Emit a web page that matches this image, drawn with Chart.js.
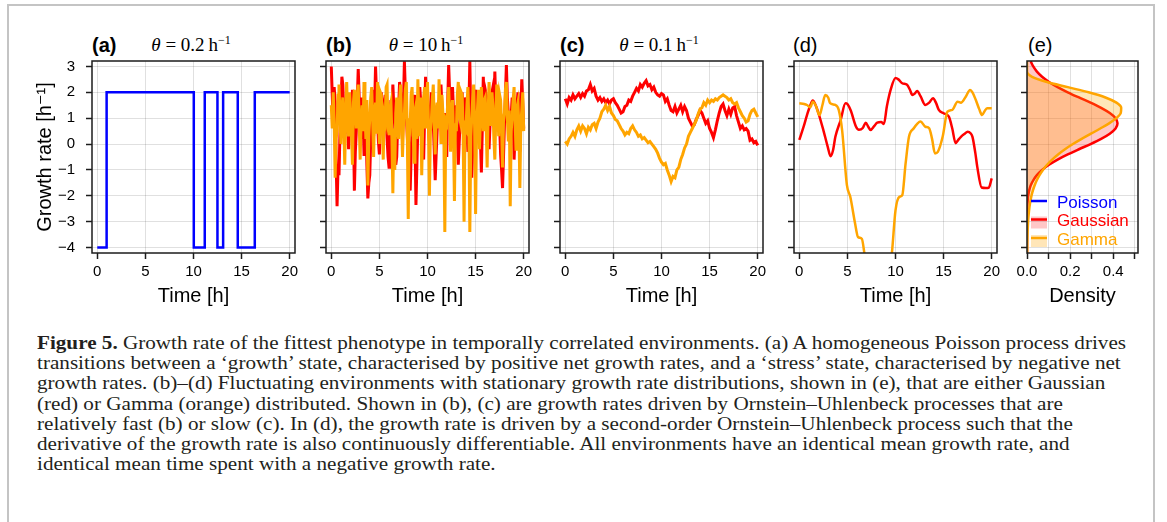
<!DOCTYPE html>
<html>
<head>
<meta charset="utf-8">
<script src="https://cdn.jsdelivr.net/npm/chart.js@4.4.1/dist/chart.umd.min.js"></script>
<style>
  html, body { margin: 0; padding: 0; background: #fff; }
  body { width: 1167px; height: 522px; overflow: hidden; position: relative; font-family: 'Liberation Sans', Arial, sans-serif; }
  #frame { position: absolute; left: 7px; top: 4px; width: 1148px; height: 600px; border: 2px solid #c4c4c4; box-sizing: border-box; }
  .panel { position: absolute; top: 56px; height: 260px; }
  .tag { position: absolute; top: 33px; font-size: 20px; line-height: 24px; color: #000; }
  .tag.bold { font-weight: bold; }
  .theta { position: absolute; top: 33px; font-family: 'Liberation Serif', 'DejaVu Serif', serif; font-size: 19px; line-height: 24px; transform: translateX(-50%); white-space: nowrap; }
  .theta sup { font-size: 12px; vertical-align: 7px; line-height: 0; }
  #caption { position: absolute; left: 37px; top: 333px; font-family: 'Liberation Serif', serif; font-size: 19px; line-height: 20.2px; color: #231f20; white-space: nowrap; transform-origin: 0 0; }
  #caption span { display: inline-block; }
</style>
</head>
<body>
<div id="frame"></div>

<div class="tag bold" style="left:92px">(a)</div>
<div class="theta" style="left:191px"><i>θ</i>&nbsp;=&nbsp;0.2&thinsp;h<sup>−1</sup></div>
<div class="tag bold" style="left:326px">(b)</div>
<div class="theta" style="left:426px"><i>θ</i>&nbsp;=&nbsp;10&thinsp;h<sup>−1</sup></div>
<div class="tag bold" style="left:560px">(c)</div>
<div class="theta" style="left:659px"><i>θ</i>&nbsp;=&nbsp;0.1&thinsp;h<sup>−1</sup></div>
<div class="tag" style="left:793px">(d)</div>
<div class="tag" style="left:1028px">(e)</div>

<div class="panel" style="left:20px;width:285px"><canvas id="panelA"></canvas></div>
<div class="panel" style="left:306px;width:233px"><canvas id="panelB"></canvas></div>
<div class="panel" style="left:540px;width:233px"><canvas id="panelC"></canvas></div>
<div class="panel" style="left:774px;width:233px"><canvas id="panelD"></canvas></div>
<div class="panel" style="left:1007px;width:141px"><canvas id="panelE"></canvas></div>

<div id="caption">
  <div><span><b>Figure 5.</b> Growth rate of the fittest phenotype in temporally correlated environments. (a) A homogeneous Poisson process drives</span></div>
  <div><span>transitions between a ‘growth’ state, characterised by positive net growth rates, and a ‘stress’ state, characterised by negative net</span></div>
  <div><span>growth rates. (b)–(d) Fluctuating environments with stationary growth rate distributions, shown in (e), that are either Gaussian</span></div>
  <div><span>(red) or Gamma (orange) distributed. Shown in (b), (c) are growth rates driven by Ornstein–Uhlenbeck processes that are</span></div>
  <div><span>relatively fast (b) or slow (c). In (d), the growth rate is driven by a second-order Ornstein–Uhlenbeck process such that the</span></div>
  <div><span>derivative of the growth rate is also continuously differentiable. All environments have an identical mean growth rate, and</span></div>
  <div><span>identical mean time spent with a negative growth rate.</span></div>
</div>

<script>
// axis ranges and ticks
const rateMin = -4.21
const rateMax = 3.21
const rateTicks = [-4, -3, -2, -1, 0, 1, 2, 3]
const timeMin = -0.55
const timeMax = 20.55
const timeTicks = [0, 5, 10, 15, 20]
const densityTicks = [0, 0.1, 0.2, 0.3, 0.4, 0.5]

// (a) Poisson switching between growth and stress
const aTime = [0, 0.97, 10.03, 11.17, 12.49, 13.08, 14.6, 16.37, 20]
const aRate = [-4, 2, -4, 2, -4, 2, -4, 2, 2]

// (b) fast OU, theta = 10 / h, sampled every 0.1 h
const bTime = [
  0, 0.1, 0.2, 0.3, 0.4, 0.5, 0.6, 0.7, 0.8, 0.9, 1, 1.1, 1.2, 1.3, 1.4, 1.5, 1.6, 1.7, 1.8, 1.9,
  2, 2.1, 2.2, 2.3, 2.4, 2.5, 2.6, 2.7, 2.8, 2.9, 3, 3.1, 3.2, 3.3, 3.4, 3.5, 3.6, 3.7, 3.8, 3.9,
  4, 4.1, 4.2, 4.3, 4.4, 4.5, 4.6, 4.7, 4.8, 4.9, 5, 5.1, 5.2, 5.3, 5.4, 5.5, 5.6, 5.7, 5.8, 5.9,
  6, 6.1, 6.2, 6.3, 6.4, 6.5, 6.6, 6.7, 6.8, 6.9, 7, 7.1, 7.2, 7.3, 7.4, 7.5, 7.6, 7.7, 7.8, 7.9,
  8, 8.1, 8.2, 8.3, 8.4, 8.5, 8.6, 8.7, 8.8, 8.9, 9, 9.1, 9.2, 9.3, 9.4, 9.5, 9.6, 9.7, 9.8, 9.9,
  10, 10.1, 10.2, 10.3, 10.4, 10.5, 10.6, 10.7, 10.8, 10.9, 11, 11.1, 11.2, 11.3, 11.4, 11.5, 11.6, 11.7, 11.8, 11.9,
  12, 12.1, 12.2, 12.3, 12.4, 12.5, 12.6, 12.7, 12.8, 12.9, 13, 13.1, 13.2, 13.3, 13.4, 13.5, 13.6, 13.7, 13.8, 13.9,
  14, 14.1, 14.2, 14.3, 14.4, 14.5, 14.6, 14.7, 14.8, 14.9, 15, 15.1, 15.2, 15.3, 15.4, 15.5, 15.6, 15.7, 15.8, 15.9,
  16, 16.1, 16.2, 16.3, 16.4, 16.5, 16.6, 16.7, 16.8, 16.9, 17, 17.1, 17.2, 17.3, 17.4, 17.5, 17.6, 17.7, 17.8, 17.9,
  18, 18.1, 18.2, 18.3, 18.4, 18.5, 18.6, 18.7, 18.8, 18.9, 19, 19.1, 19.2, 19.3, 19.4, 19.5, 19.6, 19.7, 19.8, 19.9,
  20
]
const bGauss = [
  3.0, 1.9, 0.8, 2.2, 1.6, -0.6, -2.4, -0.9, -1.2, 0.4, 1.4, 2.6, 2.3, 1.2, 0.4, 1.5, 1.9, 0.7, -0.2, 0.9,
  1.2, 0.3, 2.1, 0.8, -1.8, -0.3, 0.5, 1.7, 2.9, 1.8, 0.9, 0.2, 1.8, 1.1, -0.4, 0.6, 1.1, -0.8, -2.1, -1.5,
  -1.2, 0.2, 1.5, 2.1, 0.3, 1.4, 3.0, 1.9, 1.0, 0.1, -0.4, 0.9, 2.0, 1.2, 0.8, 1.6, 1.9, 0.9, 0.2, -0.5,
  -0.9, 0.6, 1.7, 0.9, 2.3, 1.4, 0.6, -0.8, -0.5, 0.8, 1.4, 2.4, 2.0, 0.9, 0.2, 1.6, 3.2, 2.0, 1.1, 0.3,
  0.4, -0.6, -1.8, -0.4, 0.6, 1.3, 1.9, 0.2, -2.35, -0.8, 0.7, 1.5, 2.2, 1.6, 1.0, 0.3, -0.6, 1.1, 2.6, 1.8,
  1.3, 0.6, 0.1, 1.4, 2.0, 1.1, 0.8, -0.2, -1.4, -0.4, 0.5, 1.1, 1.7, 0.8, 2.3, 1.5, 0.4, 0.9, 1.2, 0.2,
  -0.5, 1.6, 3.05, 2.0, 1.4, 0.6, 2.2, 1.3, 0.2, 0.9, 1.5, 0.4, -0.8, 0.1, 0.9, 1.6, 2.0, 1.2, 0.6, 1.8,
  1.3, 0.5, -0.3, 1.4, 3.2, 1.0, -1.3, -0.2, 1.2, 1.8, 2.1, 0.9, 0.4, 1.2, 1.5, 0.2, -1.1, 0.7, 2.6, 1.5,
  0.9, 1.9, 1.7, 0.6, -0.2, 0.8, 1.3, 2.0, 2.2, 1.4, 2.8, 1.5, 0.5, 1.2, 1.6, 0.7, -0.4, -1.0, -1.7, -0.5,
  0.8, 1.9, 3.05, 1.8, 1.2, 0.6, 0.3, 1.1, 1.8, 0.9, -0.6, 0.4, 0.9, 1.5, 2.0, 0.8, -0.3, 1.2, 2.5, 1.6,
  0.6
]
const bGamma = [
  1.5, 0.6, 2.0, 0.9, -1.3, 0.2, 0.5, 1.9, 2.3, 1.1, 0.0, 1.4, 1.8, 0.7, -0.8, 1.2, 2.4, 1.0, 0.3, 2.0,
  1.2, 0.4, -0.8, 1.6, 2.1, 1.3, 0.6, 1.9, 2.3, 0.8, -0.6, 0.9, 1.5, 0.5, 2.4, 1.2, 0.2, 1.7, -1.6, 0.3,
  1.0, 1.8, 2.2, 0.9, -0.5, 1.3, 1.6, 0.4, 2.4, 1.5, 0.0, 2.0, 1.9, 0.8, -0.6, 1.1, 0.9, 2.2, 2.3, 0.6,
  0.4, 1.4, 1.6, 0.3, -1.9, 0.6, -1.0, 1.2, 1.8, 0.5, 0.2, 1.7, 2.3, 1.0, -0.5, 0.7, 1.2, 2.1, 2.4, 0.4,
  -2.9, 1.0, 0.8, 1.9, 2.2, 0.6, -0.7, 1.3, 1.5, 0.2, 2.5, 1.1, 0.3, 1.8, -1.2, 0.7, 1.8, 2.2, 0.6, 1.4,
  2.4, 0.8, -2.0, 0.5, 0.9, 1.7, 2.3, 0.9, -0.4, 1.2, 1.6, 0.6, 2.5, 1.3, 0.0, 1.9, 1.2, 0.4, -3.4, 0.9,
  0.8, 1.6, 2.2, 1.0, -0.3, 1.4, 1.7, 0.4, -2.2, 0.8, 0.5, 1.9, 2.4, 1.1, 0.9, 2.0, 1.9, 0.6, -3.0, 0.7,
  0.6, 1.5, 2.2, 0.8, -3.4, 0.3, 1.0, 1.8, 2.3, 0.6, -2.7, 0.9, 1.4, 2.1, -0.2, 1.0, 2.2, 1.3, 0.5, 1.7,
  1.8, 0.7, -0.9, 1.2, 2.4, 1.5, 0.7, 2.0, 1.5, 0.2, -0.6, 1.1, 2.3, 1.4, 0.3, 1.9, 1.7, 0.8, -0.9, 0.9,
  1.2, 2.1, 2.4, 1.0, 0.1, 1.3, -2.4, 0.5, 1.0, 1.7, 2.2, 0.9, -0.2, 1.4, 1.6, 0.7, -1.7, 0.8, 1.3, 2.0,
  0.5
]

// (c) slow OU, theta = 0.1 / h, sampled every 0.2 h
const cTime = [
  0, 0.2, 0.4, 0.6, 0.8, 1, 1.2, 1.4, 1.6, 1.8,
  2, 2.2, 2.4, 2.6, 2.8, 3, 3.2, 3.4, 3.6, 3.8,
  4, 4.2, 4.4, 4.6, 4.8, 5, 5.2, 5.4, 5.6, 5.8,
  6, 6.2, 6.4, 6.6, 6.8, 7, 7.2, 7.4, 7.6, 7.8,
  8, 8.2, 8.4, 8.6, 8.8, 9, 9.2, 9.4, 9.6, 9.8,
  10, 10.2, 10.4, 10.6, 10.8, 11, 11.2, 11.4, 11.6, 11.8,
  12, 12.2, 12.4, 12.6, 12.8, 13, 13.2, 13.4, 13.6, 13.8,
  14, 14.2, 14.4, 14.6, 14.8, 15, 15.2, 15.4, 15.6, 15.8,
  16, 16.2, 16.4, 16.6, 16.8, 17, 17.2, 17.4, 17.6, 17.8,
  18, 18.2, 18.4, 18.6, 18.8, 19, 19.2, 19.4, 19.6, 19.8,
  20
]
const cGauss = [
  1.75, 1.55, 1.8, 1.7, 1.9, 1.75, 1.85, 1.95, 1.8, 1.95,
  1.85, 2.05, 2.1, 2.3, 2.05, 2.15, 1.85, 1.7, 1.8, 1.65,
  1.75, 1.6, 1.7, 1.55, 1.7, 1.75, 1.6, 1.5, 1.35, 1.2,
  1.25, 1.45, 1.5, 1.7, 1.65, 1.85, 2.0, 2.15, 2.05, 2.3,
  2.2, 2.35, 2.45, 2.25, 2.3, 2.1, 2.2, 2.0, 1.9, 1.85,
  1.95, 1.9, 1.65, 1.75, 1.5, 1.3, 1.25, 1.45, 1.2, 1.35,
  1.5, 1.25, 1.45, 1.3, 1.0, 0.85, 0.7, 0.75, 0.95, 1.1,
  1.3, 1.2, 1.0, 0.8, 0.9, 0.6, 0.45, 0.25, 0.55, 0.9,
  1.2, 1.45, 1.55, 1.3, 1.1, 1.35, 1.15, 1.4, 1.45, 1.1,
  0.85, 0.6, 0.7, 0.55, 0.6, 0.5, 0.15, 0.2, 0.05, 0.1,
  -0.05
]
const cGamma = [
  0.1, 0.0, 0.2, 0.3, 0.45, 0.3, 0.55, 0.7, 0.5, 0.7,
  0.6, 0.4, 0.65, 0.55, 0.75, 0.8, 0.6, 0.85, 1.0, 1.25,
  1.35, 1.5, 1.3, 1.45, 1.2, 1.1, 0.95, 0.9, 0.75, 0.6,
  0.5, 0.35, 0.45, 0.4, 0.6, 0.7, 0.55, 0.45, 0.3, 0.35,
  0.2, 0.25, 0.15, 0.05, 0.1, 0.0, -0.1, -0.2, -0.35, -0.55,
  -0.7, -0.8, -0.75, -1.0, -1.2, -1.45, -1.25, -1.3, -1.0, -0.9,
  -0.6, -0.4, -0.15, 0.0, 0.3, 0.45, 0.6, 0.75, 0.9, 1.15,
  1.35, 1.4, 1.6, 1.5, 1.7, 1.6, 1.7, 1.65, 1.75, 1.7,
  1.8, 1.85, 1.9, 1.85, 1.8, 1.7, 1.75, 1.6, 1.55, 1.6,
  1.4, 1.25, 1.1, 1.0, 0.85, 0.9, 1.15, 1.3, 1.35, 1.2,
  1.05
]

// (d) second-order OU
const dGaussTime = [0, 0.45, 0.8, 1.1, 1.4, 1.7, 2.0, 2.5, 2.95, 3.25, 3.5, 3.75, 4.3, 4.8, 5.0, 5.35, 5.9, 6.2, 6.6, 6.9, 7.2, 7.4, 7.8, 8.1, 8.5, 8.8, 9.1, 9.5, 10.0, 10.3, 10.7, 11.2, 11.5, 11.75, 12.0, 12.25, 12.6, 13.1, 13.5, 13.9, 14.2, 14.5, 15.0, 15.55, 15.9, 16.25, 16.5, 16.8, 17.2, 17.5, 17.8, 18.0, 18.3, 18.5, 18.95, 19.4, 19.7, 20.0]
const dGauss = [0.16, 0.67, 1.12, 1.45, 1.68, 1.5, 1.19, 0.54, -0.1, -0.47, -0.25, 0.28, 0.93, 1.58, 1.55, 1.3, 0.67, 0.55, 0.62, 0.82, 0.65, 0.54, 0.7, 0.83, 0.85, 0.78, 1.45, 2.1, 2.55, 2.5, 2.35, 2.29, 2.1, 1.9, 1.95, 2.05, 1.85, 1.51, 1.6, 1.77, 1.6, 1.32, 1.19, 1.06, 0.6, 0.03, 0.15, 0.28, 0.4, 0.48, 0.42, 0.28, -0.35, -0.88, -1.68, -1.7, -1.68, -1.33]
const dGammaTime = [0, 0.5, 0.8, 1.15, 1.4, 1.7, 2.1, 2.4, 2.7, 3.0, 3.2, 3.75, 4.1, 4.45, 4.95, 5.3, 5.8, 6.1, 6.5, 6.8, 7.4, 8.2, 9.0, 9.6, 10.0, 10.4, 10.7, 11.05, 11.4, 11.9, 12.3, 12.6, 13.1, 13.5, 13.8, 14.1, 14.4, 14.9, 15.4, 15.9, 16.45, 16.8, 17.3, 17.75, 18.0, 18.35, 18.7, 19.0, 19.3, 19.55, 20.0]
const dGamma = [1.58, 1.55, 1.51, 1.42, 1.64, 1.5, 1.12, 1.5, 1.9, 1.8, 1.58, 1.51, 1.32, 0.54, -1.59, -2.04, -3.07, -3.59, -3.66, -4.3, -5.5, -6.0, -5.5, -4.3, -2.56, -2.04, -1.98, -0.75, 0.28, 0.61, 0.8, 0.87, 0.67, 0.61, 0.2, -0.36, -0.3, 0.28, 1.25, 1.32, 1.64, 1.6, 1.83, 2.09, 2.0, 1.7, 1.35, 1.12, 1.3, 1.38, 1.38]

// (e) stationary densities
const eRate = [-4.2, -4.0, -3.8, -3.6, -3.4, -3.2, -3.0, -2.8, -2.6, -2.4, -2.2, -2.0, -1.8, -1.6, -1.4, -1.2, -1.0, -0.8, -0.6, -0.4, -0.2, 0.0, 0.2, 0.4, 0.6, 0.8, 1.0, 1.2, 1.4, 1.6, 1.8, 2.0, 2.2, 2.4, 2.6, 2.8, 3.0, 3.2]
const eGauss = [0, 0, 0, 0, 0, 0.0001, 0.0001, 0.0003, 0.0007, 0.0014, 0.003, 0.0055, 0.010, 0.017, 0.029, 0.046, 0.070, 0.102, 0.142, 0.189, 0.241, 0.295, 0.344, 0.384, 0.411, 0.420, 0.411, 0.384, 0.344, 0.295, 0.241, 0.189, 0.142, 0.102, 0.070, 0.046, 0.029, 0.017]
const eGamma = [0.0008, 0.0011, 0.0015, 0.0021, 0.0028, 0.0038, 0.0051, 0.0068, 0.0091, 0.0120, 0.0159, 0.0208, 0.0271, 0.0352, 0.0454, 0.0581, 0.0739, 0.0932, 0.1166, 0.1442, 0.1764, 0.2132, 0.2536, 0.2968, 0.340, 0.381, 0.4145, 0.435, 0.437, 0.415, 0.364, 0.2857, 0.1893, 0.0929, 0.0235, 0.0003, 0, 0]

const legendNames = ['Poisson', 'Gaussian', 'Gamma']
const legendColors = ['#0000ff', '#ff0000', '#ffa500']
const legendFills = [null, 'rgba(255, 0, 0, 0.22)', 'rgba(255, 165, 0, 0.28)']

const SANS = "'Liberation Sans', 'DejaVu Sans', Arial, sans-serif"
const GRID = 'rgba(0, 0, 0, 0.12)'
const INK = '#1c1c1c'
const BLUE = '#0000ff'
const RED = '#ff0000'
const ORANGE = '#ffa500'

const pts = (xs, ys) => xs.map((x, i) => ({ x, y: ys[i] }))
const minus = v => String(v).replace('-', '\u2212')

// black box round the plot area
const framePlugin = {
    id: 'frame',
    afterDatasetsDraw(chart) {
        const { ctx, chartArea: a } = chart
        ctx.save()
        ctx.strokeStyle = INK
        ctx.lineWidth = 1.5
        ctx.strokeRect(a.left, a.top, a.right - a.left, a.bottom - a.top)
        ctx.restore()
    }
}

// legend inside panel (e)
const densityLegend = {
    id: 'densityLegend',
    afterDraw(chart) {
        const { ctx, chartArea: a } = chart
        ctx.save()
        ctx.font = '17px ' + SANS
        ctx.textBaseline = 'middle'
        ctx.textAlign = 'left'
        legendNames.forEach((name, i) => {
            const cy = a.top + 142 + i * 18.5
            const x0 = a.left + 4
            if (legendFills[i]) {
                ctx.fillStyle = legendFills[i]
                ctx.fillRect(x0, cy - 5, 16, 12)
            }
            ctx.strokeStyle = legendColors[i]
            ctx.lineWidth = 2.5
            ctx.beginPath()
            ctx.moveTo(x0, cy - 2)
            ctx.lineTo(x0 + 16, cy - 2)
            ctx.stroke()
            ctx.fillStyle = legendColors[i]
            ctx.fillText(name, a.left + 30, cy)
        })
        ctx.restore()
    }
}

function series(data, color, extra) {
    return Object.assign({
        data,
        borderColor: color,
        borderWidth: 2.5,
        pointRadius: 0,
        fill: false,
        tension: 0,
        clip: 0
    }, extra || {})
}

function buildPanel(id, cfg) {
    const tickFont = { family: SANS, size: 15 }
    const grid = { color: GRID, tickColor: INK, tickLength: 6, tickWidth: 1.5 }
    return new Chart(document.getElementById(id), {
        type: 'line',
        data: { datasets: cfg.datasets },
        options: {
            animation: false,
            responsive: true,
            maintainAspectRatio: false,
            indexAxis: cfg.indexAxis || 'x',
            layout: { padding: { top: 5, right: 10, left: 0, bottom: 0 } },
            plugins: { legend: { display: false }, tooltip: { enabled: false } },
            scales: {
                x: {
                    type: 'linear',
                    min: cfg.xMin,
                    max: cfg.xMax,
                    afterBuildTicks: s => { s.ticks = cfg.xTicks.map(v => ({ value: v })) },
                    afterFit: s => { s.height = 63 },
                    grid,
                    border: { display: false },
                    ticks: { color: '#000', font: tickFont, padding: 4, maxRotation: 0, autoSkip: false, callback: cfg.xFormat },
                    title: { display: true, text: cfg.xTitle, color: '#000', font: { family: SANS, size: 20 }, padding: { top: 0, bottom: 8 } }
                },
                y: {
                    type: 'linear',
                    min: rateMin,
                    max: rateMax,
                    afterBuildTicks: s => { s.ticks = rateTicks.map(v => ({ value: v })) },
                    // fixed width, and no extra room reserved for the end labels
                    afterFit: s => {
                        s.width = cfg.yWidth
                        s.paddingTop = 0
                        s.paddingBottom = 0
                    },
                    grid,
                    border: { display: false },
                    ticks: { display: !!cfg.yTitle, color: '#000', font: tickFont, padding: 11, callback: minus },
                    title: { display: !!cfg.yTitle, text: cfg.yTitle || '', color: '#000', font: { family: SANS, size: 20 }, padding: { top: 13, bottom: 0 } }
                }
            }
        },
        plugins: [framePlugin].concat(cfg.plugins || [])
    })
}

const timeAxis = { xMin: timeMin, xMax: timeMax, xTicks: timeTicks, xTitle: 'Time [h]', xFormat: v => String(v) }

buildPanel('panelA', Object.assign({}, timeAxis, {
    yWidth: 72,
    yTitle: 'Growth rate [h\u207B\u00B9]',
    datasets: [series(pts(aTime, aRate), BLUE, { stepped: 'before' })]
}))

buildPanel('panelB', Object.assign({}, timeAxis, {
    yWidth: 20,
    datasets: [
        series(pts(bTime, bGamma), ORANGE, { borderWidth: 3 }),
        series(pts(bTime, bGauss), RED, { borderWidth: 3 })
    ]
}))

buildPanel('panelC', Object.assign({}, timeAxis, {
    yWidth: 20,
    datasets: [
        series(pts(cTime, cGamma), ORANGE, { borderWidth: 3 }),
        series(pts(cTime, cGauss), RED, { borderWidth: 3 })
    ]
}))

buildPanel('panelD', Object.assign({}, timeAxis, {
    yWidth: 20,
    datasets: [
        series(pts(dGammaTime, dGamma), ORANGE, { cubicInterpolationMode: 'monotone' }),
        series(pts(dGaussTime, dGauss), RED, { cubicInterpolationMode: 'monotone' })
    ]
}))

buildPanel('panelE', {
    indexAxis: 'y',
    xMin: 0,
    xMax: 0.515,
    xTicks: densityTicks,
    xTitle: 'Density',
    xFormat: v => (Math.round(v * 10) % 2 === 0 && v < 0.45) ? v.toFixed(1) : '',
    yWidth: 20,
    datasets: [
        series(pts(eGamma, eRate), ORANGE, { fill: 'origin', backgroundColor: legendFills[2], cubicInterpolationMode: 'monotone' }),
        series(pts(eGauss, eRate), RED, { fill: 'origin', backgroundColor: legendFills[1], cubicInterpolationMode: 'monotone' })
    ],
    plugins: [densityLegend]
})

// stretch the caption so its first line spans the text block
document.fonts.ready.then(() => {
    const cap = document.getElementById('caption')
    const first = cap.querySelector('span')
    const w = first.getBoundingClientRect().width
    cap.style.transform = 'scaleX(' + (1089 / w) + ')'
})
</script>
</body>
</html>
